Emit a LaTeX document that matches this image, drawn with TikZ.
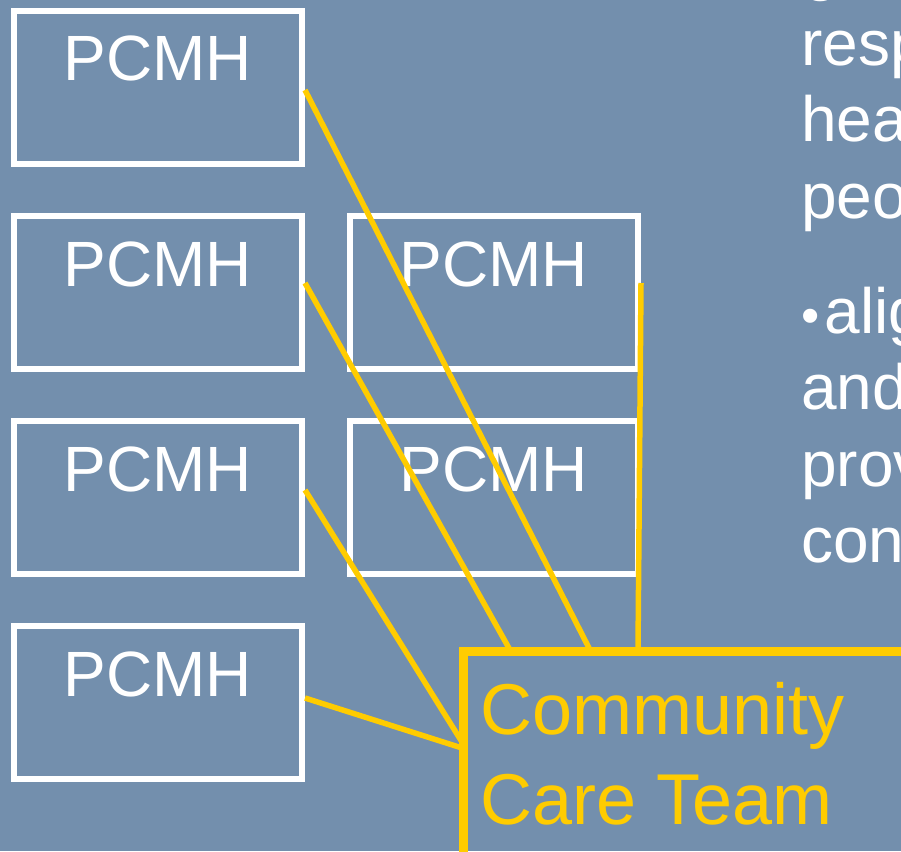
\documentclass[tikz,border=0pt]{standalone}
\usepackage{fontspec}
\setmainfont{Liberation Sans}
\definecolor{bg}{RGB}{115,143,173}
\definecolor{gold}{RGB}{255,204,0}
\begin{document}
\begin{tikzpicture}[x=1pt,y=-1pt,
  pcmhbox/.style={draw=white, line width=6pt, minimum width=288pt, minimum height=153pt, inner sep=0pt},
  pcmhtext/.style={text=white, font=\fontsize{64}{77}\selectfont, anchor=base, inner sep=0pt},
  bodytext/.style={text=white, font=\fontsize{64}{77}\selectfont, anchor=base west, inner sep=0pt},
  link/.style={draw=gold, line width=5.5pt},
  cctbox/.style={draw=gold, line width=6pt, minimum width=600pt, minimum height=400pt, inner sep=0pt, anchor=north west},
  cctext/.style={text=gold, font=\fontsize{72}{90}\selectfont, anchor=base west, inner sep=0pt}]
\fill[bg] (0,0) rectangle (901,851);
\useasboundingbox (0,0) rectangle (901,851);
\clip (0,0) rectangle (901,851);

% PCMH boxes
\node[pcmhbox] (b1) at (158,87.5) {};
\node[pcmhbox] (b2) at (158,292.5) {};
\node[pcmhbox] (b3) at (158,497.5) {};
\node[pcmhbox] (b4) at (158,702.5) {};
\node[pcmhbox] (b5) at (494,292.5) {};
\node[pcmhbox] (b6) at (494,497.5) {};
\foreach \b in {b1,b2,b3,b4,b5,b6}
  \node[pcmhtext] (t\b) at ([yshift=-73pt]\b.north) {PCMH};

% right-hand text (cut by the edge)
\node[bodytext] (r0) at (803,-11.5) {g};
\node[bodytext] (r1) at (801,65) {resp};
\node[bodytext] (r2) at (801,141.5) {hea};
\node[bodytext] (r3) at (801,218) {peo};
\node[bodytext] (r4) at (801,333) {{\fontsize{52}{60}\selectfont •}\hspace{5pt}alig};
\node[bodytext] (r5) at (801,409.5) {and};
\node[bodytext] (r6) at (801,486) {prov};
\node[bodytext] (r7) at (801,562.5) {con};

% community care team box
\node[cctbox] (cct) at (462,650) {};
\coordinate (e1) at ([xshift=128pt]cct.north west);
\coordinate (e2) at ([xshift=48pt]cct.north west);
\coordinate (e3) at ([yshift=-92pt]cct.north west);
\coordinate (e4) at ([yshift=-98pt]cct.north west);
\coordinate (e5) at ([xshift=176pt]cct.north west);

% connectors
\draw[link] ([yshift=-2.5pt]b1.east) -- (e1);
\draw[link] ([yshift=9.5pt]b2.east) -- (e2);
\draw[link] ([yshift=7.5pt]b3.east) -- (e3);
\draw[link] ([yshift=4.5pt]b4.east) -- (e4);
\draw[link] ([yshift=9.5pt]b5.east) -- (e5);

% redraw box border on top
\draw[gold, line width=6pt] (cct.south west) -- (cct.north west) -- (cct.north east);

\node[cctext] (c1) at (480,734) {Community};
\node[cctext] (c2) at (480,824) {Care Team};
\end{tikzpicture}
\end{document}
